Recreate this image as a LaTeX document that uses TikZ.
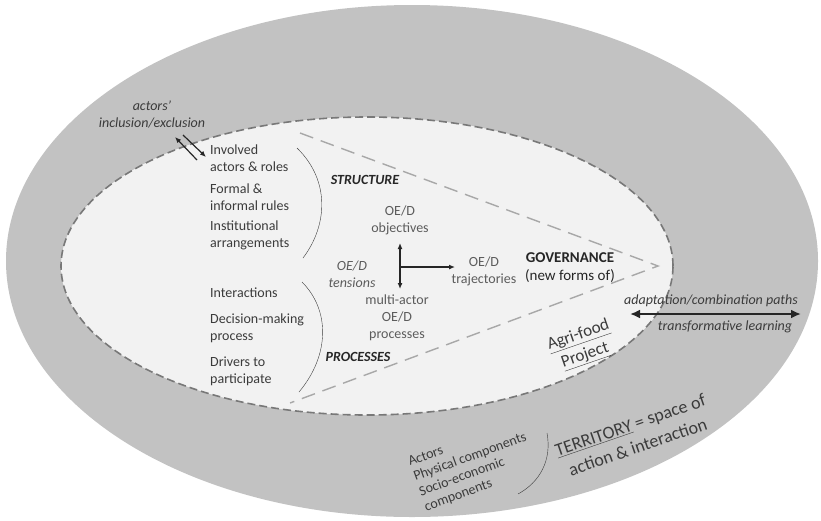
\documentclass[tikz,border=0pt]{standalone}
\usepackage{fontspec}
\setmainfont{Carlito}
\usetikzlibrary{arrows.meta}
\definecolor{terrgray}{gray}{0.76}
\definecolor{projgray}{gray}{0.95}
\definecolor{rimgray}{gray}{0.47}
\definecolor{trigray}{gray}{0.66}
\definecolor{listgray}{gray}{0.23}
\definecolor{midgray}{gray}{0.36}

\begin{document}
\begin{tikzpicture}[x=1pt,y=-1pt,>={Latex[length=6pt,width=5pt]},
		lst/.style={font=\fontsize{14}{17}\selectfont,text=listgray,align=left,anchor=west,inner sep=0pt},
		mid/.style={font=\fontsize{14}{17}\selectfont,text=midgray,align=center,inner sep=0pt},
		hd/.style={font=\fontsize{14}{17}\selectfont\bfseries\itshape,text=black!85,inner sep=0pt},
		lbl/.style={font=\fontsize{14}{17}\selectfont\itshape,text=listgray,align=center,inner sep=0pt},
		arr/.style={line width=1.2pt,black!85}]
	\useasboundingbox (0,0) rectangle (821,520);
	\fill[terrgray] (412,261) ellipse [x radius=406pt,y radius=256pt];
	\draw[rimgray,fill=projgray,line width=1.6pt,dash pattern=on 8pt off 4pt] (367,266) ellipse [x radius=306pt,y radius=149pt];
	\draw[trigray,line width=1.4pt,dash pattern=on 14pt off 8pt] (300,133)--(658,266)--(290,403);
	\node[lbl] (incl) at (152,114) {actors'\\inclusion/exclusion};
	\coordinate (tailA) at (197,160);
	\coordinate (headA) at (175,137);
	\coordinate (tailB) at (183,135);
	\coordinate (headB) at (206,157);
	\draw[arr,->] (tailA)--(headA);
	\draw[arr,->] (tailB)--(headB);
	\node[lst] (actors) at (210,158) {Involved\\actors \& roles};
	\node[lst] (rules) at (210,197) {Formal \&\\informal rules};
	\node[lst] (inst) at (210,235) {Institutional\\arrangements};
	\node[lst] (inter) at (210,293) {Interactions};
	\node[lst] (decis) at (210,328) {Decision-making\\process};
	\node[lst] (driv) at (210,371) {Drivers to\\participate};
	\draw[listgray] (297,148) .. controls (330,180) and (328,225) .. (303,258);
	\draw[listgray] (302,282) .. controls (330,310) and (330,355) .. (299,392);
	\node[hd] (struct) at (365,180) {STRUCTURE};
	\node[hd] (proc) at (358,357) {PROCESSES};
	\node[mid] (obj) at (400,220) {OE/D\\objectives};
	\node[lbl,text=midgray] (tens) at (352,274) {OE/D\\tensions};
	\node[mid] (multi) at (397,318) {multi-actor\\OE/D\\processes};
	\node[mid] (traj) at (484,271) {OE/D\\trajectories};
	\node[mid,font=\fontsize{15}{18}\selectfont,text=black!85] (gov) at (570,268) {\textbf{GOVERNANCE}\\(new forms of)};
	\coordinate (hub) at (400,267);
	\coordinate (objend) at (400,243);
	\coordinate (procend) at (400,289);
	\coordinate (trajend) at (455,267);
	\draw[arr,<->] (objend)--(procend);
	\draw[arr,->] (hub)--(trajend);
	\coordinate (pathL) at (630,314);
	\coordinate (pathR) at (801,314);
	\draw[line width=2.6pt,black!85,{Latex[length=10pt,width=9pt]}-{Latex[length=10pt,width=9pt]}] (pathL)--(pathR);
	\node[lbl] (adapt) at (711,301) {adaptation/combination paths};
	\node[lbl] (learn) at (725,327) {transformative learning};
	\node[font=\fontsize{17}{21}\selectfont,text=listgray,align=center,rotate=19,inner sep=0pt] (proj) at (582,346) {\underline{Agri-food}\\\underline{Project}};
	\node[font=\fontsize{18}{23}\selectfont,text=listgray,align=center,rotate=19,inner sep=0pt] (terr) at (634,436) {\underline{TERRITORY} = space of\\action \& interaction};
	\node[font=\fontsize{14}{16}\selectfont,text=listgray,align=left,rotate=20,inner sep=0pt] (comp) at (473,465) {Actors\\Physical components\\Socio-economic\\components};
	\draw[listgray] (547,433) .. controls (552,460) and (540,482) .. (518,494);
\end{tikzpicture}
\end{document}
